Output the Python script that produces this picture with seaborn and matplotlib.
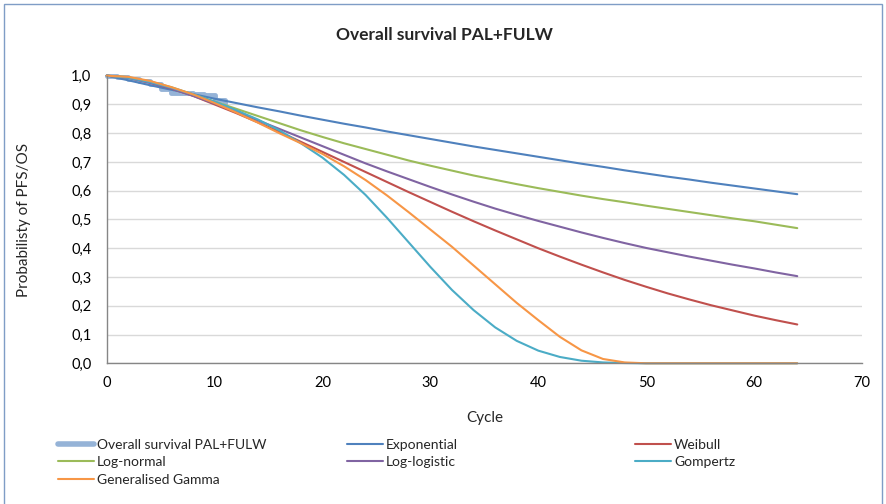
import numpy as np
import pandas as pd
import seaborn as sns
import matplotlib.pyplot as plt
from matplotlib.lines import Line2D
from matplotlib.patches import Rectangle
from matplotlib.ticker import FuncFormatter, MultipleLocator

# Kaplan-Meier (observert)
km_cycle = [0, 1, 2, 3, 4, 5, 6, 8, 9, 10, 11]
km_surv = [1.0, 0.997, 0.99, 0.98, 0.97, 0.955, 0.94, 0.937, 0.933, 0.915, 0.9]

# parametriske kurver, avlest hver 2. syklus
cycles = list(range(0, 65, 2))
exponential = [1.000, 0.984, 0.967, 0.951, 0.936, 0.920, 0.905, 0.890, 0.876, 0.861, 0.847,
               0.833, 0.820, 0.806, 0.793, 0.780, 0.767, 0.754, 0.742, 0.730, 0.718, 0.706,
               0.694, 0.683, 0.671, 0.660, 0.649, 0.639, 0.628, 0.618, 0.608, 0.598, 0.588]
weibull = [1.0, 0.993, 0.976, 0.955, 0.93, 0.90, 0.87, 0.838, 0.805, 0.77, 0.735,
           0.70, 0.665, 0.63, 0.595, 0.561, 0.527, 0.494, 0.462, 0.431, 0.40, 0.371,
           0.343, 0.316, 0.29, 0.266, 0.243, 0.222, 0.202, 0.184, 0.166, 0.15, 0.135]
lognormal = [1.0, 0.995, 0.98, 0.96, 0.935, 0.91, 0.885, 0.86, 0.835, 0.81, 0.787,
             0.765, 0.745, 0.725, 0.705, 0.687, 0.67, 0.653, 0.638, 0.623, 0.609, 0.596,
             0.583, 0.571, 0.56, 0.548, 0.537, 0.526, 0.515, 0.504, 0.494, 0.482, 0.47]
loglogistic = [1.0, 0.993, 0.976, 0.955, 0.93, 0.903, 0.875, 0.845, 0.815, 0.785, 0.755,
               0.725, 0.695, 0.667, 0.64, 0.613, 0.587, 0.562, 0.538, 0.516, 0.495, 0.475,
               0.455, 0.436, 0.418, 0.401, 0.386, 0.371, 0.357, 0.343, 0.33, 0.316, 0.303]
gompertz = [1.0, 0.993, 0.978, 0.958, 0.935, 0.91, 0.88, 0.848, 0.81, 0.765, 0.715,
            0.655, 0.585, 0.505, 0.42, 0.335, 0.255, 0.185, 0.125, 0.078, 0.044, 0.022,
            0.009, 0.003, 0.001, 0.0, 0.0, 0.0, 0.0, 0.0, 0.0, 0.0, 0.0]
gengamma = [1.0, 0.996, 0.982, 0.96, 0.935, 0.905, 0.872, 0.837, 0.80, 0.765, 0.728,
            0.685, 0.637, 0.583, 0.525, 0.465, 0.405, 0.34, 0.275, 0.21, 0.15, 0.092,
            0.045, 0.015, 0.003, 0.0, 0.0, 0.0, 0.0, 0.0, 0.0, 0.0, 0.0]

serier = [
    ("Exponential", exponential, "#4F81BD"),
    ("Weibull", weibull, "#C0504D"),
    ("Log-normal", lognormal, "#9BBB59"),
    ("Log-logistic", loglogistic, "#8064A2"),
    ("Gompertz", gompertz, "#4BACC6"),
    ("Generalised Gamma", gengamma, "#F79646"),
]
km_farge = "#95B3D7"

sns.set_style("white")
plt.rcParams['font.family'] = ['Lato', 'DejaVu Sans']

W, H = 886, 504
fig = plt.figure(figsize=(W / 100, H / 100), dpi=100)
x0, x1, y0, y1 = 106.7, 862, 363.3, 75.7
ax = fig.add_axes([x0 / W, 1 - y0 / H, (x1 - x0) / W, (y0 - y1) / H])

sns.lineplot(x=km_cycle, y=km_surv, ax=ax, color=km_farge, linewidth=3.5,
             drawstyle="steps-post", clip_on=False)
for navn, verdier, farge in serier:
    sns.lineplot(x=cycles, y=verdier, ax=ax, color=farge, linewidth=1.5, clip_on=False)

ax.set_xlim(0, 70)
ax.set_ylim(0, 1.0)
ax.xaxis.set_major_locator(MultipleLocator(10))
ax.yaxis.set_major_locator(MultipleLocator(0.1))
ax.yaxis.set_major_formatter(FuncFormatter(lambda v, p: f"{v:.1f}".replace(".", ",")))
ax.grid(axis="y", color="#D9D9D9", linewidth=1)
ax.set_axisbelow(True)
for s in ["top", "right"]:
    ax.spines[s].set_visible(False)
for s in ["left", "bottom"]:
    ax.spines[s].set_color("#868686")
    ax.spines[s].set_linewidth(1)
ax.tick_params(axis="both", direction="out", length=5, width=1, color="#868686",
               labelsize=10.5, labelcolor="black", pad=4)
ax.tick_params(axis="y", pad=6)
ax.set_xlabel("")
ax.set_ylabel("")

fig.text((x0 + x1) / 2 / W, 1 - 418 / H, "Cycle", ha="center", va="center", fontsize=11)
fig.text(24 / W, 1 - (y0 + y1) / 2 / H, "Probabilisty of PFS/OS", rotation=90,
         ha="center", va="center", fontsize=11)
fig.text(444 / W, 1 - 35 / H, "Overall survival PAL+FULW", ha="center", va="center",
         fontsize=12.5, fontweight="bold")

# legende i tre kolonner
def h(farge, lw=1.5):
    return Line2D([0], [0], color=farge, linewidth=lw)

kolonner = [
    ([h(km_farge, 4), h("#9BBB59"), h("#F79646")],
     ["Overall survival PAL+FULW", "Log-normal", "Generalised Gamma"], 58),
    ([h("#4F81BD"), h("#8064A2")], ["Exponential", "Log-logistic"], 347),
    ([h("#C0504D"), h("#4BACC6")], ["Weibull", "Gompertz"], 635),
]
for handles, labels, xp in kolonner:
    fig.legend(handles, labels, loc="upper left", bbox_to_anchor=(xp / W, 1 - 439 / H),
               frameon=False, fontsize=10, handlelength=2.6, handletextpad=0.2,
               labelspacing=0.38, borderpad=0, borderaxespad=0)

fig.patches.append(Rectangle((4 / W, -0.1), 878 / W, 1.1 - 4 / H, transform=fig.transFigure,
                             fill=False, edgecolor="#7F9DC6", linewidth=1))

fig.savefig("out.png", dpi=100)
